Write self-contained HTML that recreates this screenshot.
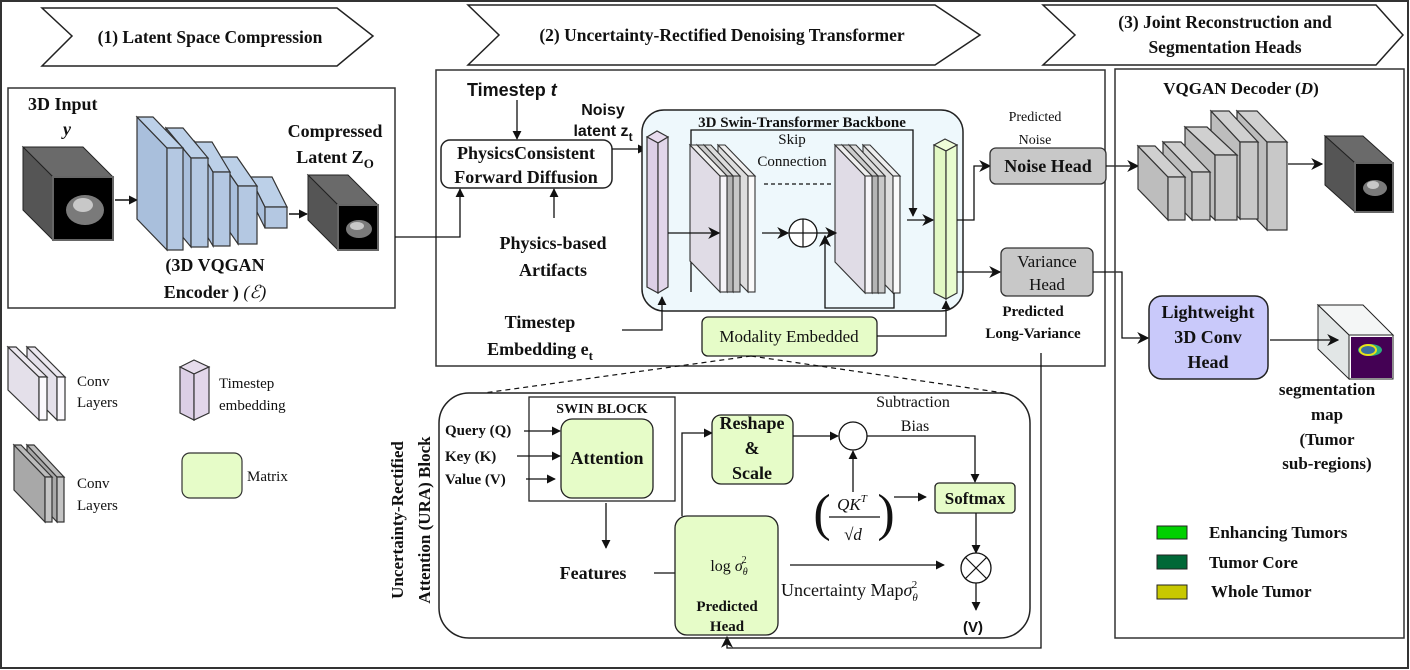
<!DOCTYPE html>
<html><head><meta charset="utf-8"><style>
html,body{margin:0;padding:0;background:#fff;width:1410px;height:670px;overflow:hidden}
svg{display:block}
text{font-family:"Liberation Serif",serif;fill:#111}
.b{font-weight:bold}
.s{font-family:"Liberation Sans",sans-serif}
</style></head><body>
<svg width="1410" height="670" viewBox="0 0 1410 670" xmlns="http://www.w3.org/2000/svg">
<defs>
<marker id="a" viewBox="0 0 10 10" refX="9" refY="5" markerWidth="9" markerHeight="9" markerUnits="userSpaceOnUse" orient="auto"><path d="M0,0 L10,5 L0,10 z" fill="#111"/></marker>
<marker id="a2" viewBox="0 0 10 10" refX="9" refY="5" markerWidth="12" markerHeight="12" markerUnits="userSpaceOnUse" orient="auto"><path d="M0,0 L10,5 L0,10 L3,5 z" fill="#111"/></marker>
</defs>
<rect x="1" y="1" width="1407" height="667" fill="none" stroke="#333" stroke-width="2"/>

<!-- header chevrons -->
<g stroke="#222" stroke-width="1.5" fill="#fff">
<polygon points="42,8 337,8 373,36 337,66 42,66 72,36"/>
<polygon points="468,5 935,5 980,35 935,65 468,65 499,35"/>
<polygon points="1043,5 1376,5 1403,35 1376,65 1043,65 1075,35"/>
</g>
<text x="210" y="43" class="b" font-size="17.5" text-anchor="middle">(1) Latent Space Compression</text>
<text x="722" y="41" class="b" font-size="17.5" text-anchor="middle">(2) Uncertainty-Rectified Denoising Transformer</text>
<text x="1225" y="28" class="b" font-size="17.5" text-anchor="middle">(3) Joint Reconstruction and</text>
<text x="1225" y="53" class="b" font-size="17.5" text-anchor="middle">Segmentation Heads</text>

<!-- Section 1 -->
<rect x="8" y="88" width="387" height="220" fill="none" stroke="#333" stroke-width="1.5"/>
<text x="28" y="110" class="b" font-size="18">3D Input</text>
<text x="63" y="135" class="b" font-size="18" font-style="italic">y</text>
<!-- cube1 -->
<polygon points="23,147 83,147 113,177 53,177" fill="#6a6a6a" stroke="#222"/>
<polygon points="23,147 53,177 53,240 23,210" fill="#555" stroke="#222"/>
<rect x="53" y="177" width="60" height="63" fill="#000" stroke="#666" stroke-width="2"/>
<ellipse cx="85" cy="210" rx="19" ry="15" fill="#7a7a7a"/><ellipse cx="83" cy="205" rx="10" ry="7" fill="#c8c8c8"/>
<line x1="115" y1="200" x2="137" y2="200" stroke="#111" stroke-width="1.5" marker-end="url(#a)"/>
<!-- encoder slabs -->
<g stroke="#333" stroke-width="1.2">
<polygon points="250,177 265,207 265,228 250,198" fill="#a9bfdc"/><polygon points="250,177 272,177 287,207 265,207" fill="#bcd0e8"/><rect x="265" y="207" width="22" height="21" fill="#b4c8e2"/>
<polygon points="218,157 238,186 238,244 218,215" fill="#a9bfdc"/><polygon points="218,157 237,157 257,186 238,186" fill="#bcd0e8"/><rect x="238" y="186" width="19" height="58" fill="#b4c8e2"/>
<polygon points="195,142 213,172 213,246 195,216" fill="#a9bfdc"/><polygon points="195,142 212,142 230,172 213,172" fill="#bcd0e8"/><rect x="213" y="172" width="17" height="74" fill="#b4c8e2"/>
<polygon points="166,128 191,158 191,247 166,217" fill="#a9bfdc"/><polygon points="166,128 183,128 208,158 191,158" fill="#bcd0e8"/><rect x="191" y="158" width="17" height="89" fill="#b4c8e2"/>
<polygon points="137,117 167,148 167,250 137,219" fill="#a9bfdc"/><polygon points="137,117 153,117 183,148 167,148" fill="#bcd0e8"/><rect x="167" y="148" width="16" height="102" fill="#b4c8e2"/>
</g>
<line x1="289" y1="214" x2="307" y2="214" stroke="#111" stroke-width="1.5" marker-end="url(#a)"/>
<!-- cube2 -->
<polygon points="308,175 348,175 378,205 338,205" fill="#6a6a6a" stroke="#222"/>
<polygon points="308,175 338,205 338,250 308,220" fill="#555" stroke="#222"/>
<rect x="338" y="205" width="40" height="45" fill="#000" stroke="#666" stroke-width="2"/>
<ellipse cx="359" cy="229" rx="13" ry="9" fill="#7a7a7a"/><ellipse cx="357" cy="226" rx="7" ry="4" fill="#c8c8c8"/>
<text x="335" y="137" class="b" font-size="18" text-anchor="middle">Compressed</text>
<text x="335" y="163" class="b" font-size="18" text-anchor="middle">Latent Z<tspan font-size="13" dy="5">O</tspan></text>
<text x="215" y="271" class="b" font-size="18" text-anchor="middle">(3D VQGAN</text>
<text x="215" y="298" class="b" font-size="18" text-anchor="middle">Encoder )  <tspan font-weight="normal" font-style="italic">(ℰ)</tspan></text>

<!-- Legend left -->
<g stroke="#333" stroke-width="1.2">
<polygon points="27,347 57,377 57,420 27,390" fill="#e4e0ea"/><polygon points="27,347 35,347 65,377 57,377" fill="#ece8f0"/><rect x="57" y="377" width="8" height="43" fill="#fbf9fd"/>
<polygon points="8,347 39,377 39,420 8,390" fill="#e4e0ea"/><polygon points="8,347 16,347 47,377 39,377" fill="#ece8f0"/><rect x="39" y="377" width="8" height="43" fill="#fbf9fd"/>
<polygon points="27,445 57,477 57,522 27,490" fill="#a8a8a8"/><polygon points="27,445 34,445 64,477 57,477" fill="#bbb"/><rect x="57" y="477" width="7" height="45" fill="#c4c4c4"/>
<polygon points="14,445 45,477 45,522 14,490" fill="#a8a8a8"/><polygon points="14,445 21,445 52,477 45,477" fill="#bbb"/><rect x="45" y="477" width="7" height="45" fill="#c4c4c4"/>
<polygon points="180,367 194,360 209,367 194,374" fill="#e6dcec"/><polygon points="180,367 194,374 194,420 180,413" fill="#dccfe6"/><polygon points="194,374 209,367 209,413 194,420" fill="#e2d6ea"/>
</g>
<text x="77" y="386" font-size="15">Conv</text><text x="77" y="407" font-size="15">Layers</text>
<text x="77" y="488" font-size="15">Conv</text><text x="77" y="510" font-size="15">Layers</text>
<text x="219" y="388" font-size="15">Timestep</text><text x="219" y="410" font-size="15">embedding</text>
<rect x="182" y="453" width="60" height="45" rx="8" fill="#e6fcc8" stroke="#333" stroke-width="1.2"/>
<text x="247" y="481" font-size="15">Matrix</text>

<!-- Section 2 -->
<rect x="436" y="70" width="669" height="296" fill="none" stroke="#333" stroke-width="1.5"/>
<text x="467" y="96" class="b s" font-size="18">Timestep <tspan font-style="italic">t</tspan></text>
<line x1="517" y1="100" x2="517" y2="139" stroke="#111" stroke-width="1.3" marker-end="url(#a)"/>
<rect x="441" y="140" width="171" height="48" rx="9" fill="#fff" stroke="#222" stroke-width="1.5"/>
<text x="526" y="159" class="b" font-size="18" text-anchor="middle">PhysicsConsistent</text>
<text x="526" y="183" class="b" font-size="18" text-anchor="middle">Forward Diffusion</text>
<text x="603" y="115" class="b s" font-size="16" text-anchor="middle">Noisy</text>
<text x="603" y="136" class="b s" font-size="16" text-anchor="middle">latent z<tspan font-size="12" dy="5">t</tspan></text>
<line x1="612" y1="149" x2="646" y2="149" stroke="#111" stroke-width="1.3" marker-end="url(#a)"/>
<polyline points="395,237 460,237 460,189" fill="none" stroke="#111" stroke-width="1.3" marker-end="url(#a)"/>
<line x1="554" y1="218" x2="554" y2="189" stroke="#111" stroke-width="1.3" marker-end="url(#a)"/>
<text x="553" y="249" class="b" font-size="18" text-anchor="middle">Physics-based</text>
<text x="553" y="276" class="b" font-size="18" text-anchor="middle">Artifacts</text>
<text x="540" y="328" class="b" font-size="18" text-anchor="middle">Timestep</text>
<text x="540" y="355" class="b" font-size="18" text-anchor="middle">Embedding e<tspan font-size="13" dy="5">t</tspan></text>

<rect x="642" y="110" width="321" height="201" rx="22" fill="#eef8fc" stroke="#222" stroke-width="1.5"/>
<text x="802" y="127" class="b" font-size="15" text-anchor="middle">3D Swin-Transformer Backbone</text>
<!-- purple bar -->
<g stroke="#333" stroke-width="1.2">
<polygon points="647,137 657,131 668,137 658,143" fill="#e8dcef"/><polygon points="647,137 658,143 658,293 647,287" fill="#dccfe6"/><polygon points="658,143 668,137 668,287 658,293" fill="#e2d6ea"/>
</g>
<polyline points="622,330 662,330 662,297" fill="none" stroke="#111" stroke-width="1.3" marker-end="url(#a)"/>
<!-- skip -->
<polyline points="691,292 691,130 913,130 913,216" fill="none" stroke="#111" stroke-width="1.3" marker-end="url(#a)"/>
<text x="792" y="144" font-size="15" text-anchor="middle">Skip</text>
<text x="792" y="166" font-size="15" text-anchor="middle">Connection</text>
<line x1="764" y1="184" x2="831" y2="184" stroke="#111" stroke-width="1.3" stroke-dasharray="4,3"/>
<!-- left layer group -->
<g stroke="#333" stroke-width="1.1">
<polygon points="718,145 748,176 748,292 718,261" fill="#ddd"/><polygon points="718,145 725,145 755,176 748,176" fill="#eee"/><rect x="748" y="176" width="7" height="116" fill="#fafafa"/>
<polygon points="704,145 733,176 733,292 704,261" fill="#ccc"/><polygon points="704,145 711,145 740,176 733,176" fill="#ddd"/><rect x="733" y="176" width="7" height="116" fill="#c8c8c8"/>
<polygon points="697,145 727,176 727,292 697,261" fill="#bbb"/><polygon points="697,145 704,145 733,176 727,176" fill="#ccc"/><rect x="727" y="176" width="6" height="116" fill="#b4b4b4"/>
<polygon points="690,145 720,176 720,292 690,261" fill="#e0dce6"/><polygon points="690,145 697,145 727,176 720,176" fill="#eee"/><rect x="720" y="176" width="7" height="116" fill="#f6f4f8"/>
</g>
<g stroke="#333" stroke-width="1.1">
<polygon points="863,145 893,176 893,293 863,262" fill="#ddd"/><polygon points="863,145 870,145 900,176 893,176" fill="#eee"/><rect x="893" y="176" width="7" height="117" fill="#fafafa"/>
<polygon points="849,145 878,176 878,293 849,262" fill="#ccc"/><polygon points="849,145 856,145 885,176 878,176" fill="#ddd"/><rect x="878" y="176" width="7" height="117" fill="#c8c8c8"/>
<polygon points="842,145 872,176 872,293 842,262" fill="#bbb"/><polygon points="842,145 849,145 878,176 872,176" fill="#ccc"/><rect x="872" y="176" width="6" height="117" fill="#b4b4b4"/>
<polygon points="835,145 865,176 865,293 835,262" fill="#e0dce6"/><polygon points="835,145 842,145 872,176 865,176" fill="#eee"/><rect x="865" y="176" width="7" height="117" fill="#f6f4f8"/>
</g>
<line x1="668" y1="233" x2="719" y2="233" stroke="#111" stroke-width="1.3" marker-end="url(#a2)"/>
<line x1="762" y1="233" x2="788" y2="233" stroke="#111" stroke-width="1.3" marker-end="url(#a2)"/>
<circle cx="803" cy="233" r="14" fill="#fff" stroke="#111" stroke-width="1.3"/>
<line x1="789" y1="233" x2="817" y2="233" stroke="#111" stroke-width="1.2"/><line x1="803" y1="219" x2="803" y2="247" stroke="#111" stroke-width="1.2"/>
<line x1="817" y1="233" x2="836" y2="233" stroke="#111" stroke-width="1.3" marker-end="url(#a2)"/>
<polyline points="894,293 894,308 825,308 825,236" fill="none" stroke="#111" stroke-width="1.3" marker-end="url(#a2)"/>
<line x1="907" y1="220" x2="933" y2="220" stroke="#111" stroke-width="1.3" marker-end="url(#a2)"/>
<!-- green bar -->
<g stroke="#333" stroke-width="1.2">
<polygon points="934,145 945,139 957,145 946,151" fill="#eefcd8"/><polygon points="934,145 946,151 946,299 934,293" fill="#e2f8c4"/><polygon points="946,151 957,145 957,293 946,299" fill="#e8fccf"/>
</g>
<rect x="702" y="317" width="175" height="39" rx="6" fill="#e6fcc8" stroke="#222" stroke-width="1.3"/>
<text x="789" y="342" font-size="17" text-anchor="middle">Modality Embedded</text>
<polyline points="877,336 946,336 946,301" fill="none" stroke="#111" stroke-width="1.3" marker-end="url(#a)"/>
<polyline points="957,220 974,220 974,166 990,166" fill="none" stroke="#111" stroke-width="1.3" marker-end="url(#a2)"/>
<line x1="957" y1="272" x2="1000" y2="272" stroke="#111" stroke-width="1.3" marker-end="url(#a2)"/>
<rect x="990" y="148" width="116" height="36" rx="6" fill="#c8c8c8" stroke="#333" stroke-width="1.3"/>
<text x="1048" y="172" class="b" font-size="18" text-anchor="middle">Noise Head</text>
<text x="1035" y="121" font-size="14" text-anchor="middle">Predicted</text>
<text x="1035" y="144" font-size="14" text-anchor="middle">Noise</text>
<rect x="1001" y="248" width="92" height="48" rx="6" fill="#c8c8c8" stroke="#333" stroke-width="1.3"/>
<text x="1047" y="267" font-size="17" text-anchor="middle">Variance</text>
<text x="1047" y="290" font-size="17" text-anchor="middle">Head</text>
<text x="1033" y="316" class="b" font-size="15" text-anchor="middle">Predicted</text>
<text x="1033" y="338" class="b" font-size="15" text-anchor="middle">Long-Variance</text>
<line x1="1106" y1="166" x2="1138" y2="166" stroke="#111" stroke-width="1.3" marker-end="url(#a2)"/>
<polyline points="1093,272 1122,272 1122,338 1148,338" fill="none" stroke="#111" stroke-width="1.3" marker-end="url(#a2)"/>
<polyline points="1041,353 1041,648 727,648 727,637" fill="none" stroke="#111" stroke-width="1.3" marker-end="url(#a2)"/>

<!-- dashed zoom lines -->
<line x1="751" y1="356" x2="484" y2="393" stroke="#111" stroke-width="1.2" stroke-dasharray="5,4"/>
<line x1="751" y1="356" x2="1004" y2="393" stroke="#111" stroke-width="1.2" stroke-dasharray="5,4"/>

<!-- URA block -->
<rect x="439" y="393" width="591" height="245" rx="30" fill="none" stroke="#222" stroke-width="1.5"/>
<text transform="translate(403,520) rotate(-90)" class="b" font-size="17" text-anchor="middle">Uncertainty-Rectified</text>
<text transform="translate(430,520) rotate(-90)" class="b" font-size="17" text-anchor="middle">Attention (URA) Block</text>
<rect x="529" y="397" width="146" height="104" fill="none" stroke="#222" stroke-width="1.3"/>
<text x="602" y="413" class="b" font-size="14" text-anchor="middle">SWIN BLOCK</text>
<rect x="561" y="419" width="92" height="79" rx="11" fill="#e6fcc8" stroke="#222" stroke-width="1.3"/>
<text x="607" y="464" class="b" font-size="18" text-anchor="middle">Attention</text>
<text x="445" y="435" class="b" font-size="15">Query (Q)</text>
<text x="445" y="461" class="b" font-size="15">Key (K)</text>
<text x="445" y="484" class="b" font-size="15">Value (V)</text>
<line x1="524" y1="431" x2="560" y2="431" stroke="#111" stroke-width="1.3" marker-end="url(#a)"/>
<line x1="517" y1="456" x2="560" y2="456" stroke="#111" stroke-width="1.3" marker-end="url(#a)"/>
<line x1="526" y1="479" x2="555" y2="479" stroke="#111" stroke-width="1.3" marker-end="url(#a)"/>
<line x1="606" y1="503" x2="606" y2="548" stroke="#111" stroke-width="1.3" marker-end="url(#a)"/>
<text x="593" y="579" class="b" font-size="18" text-anchor="middle">Features</text>
<line x1="654" y1="573" x2="675" y2="573" stroke="#111" stroke-width="1.3"/>
<rect x="675" y="516" width="103" height="119" rx="12" fill="#e6fcc8" stroke="#222" stroke-width="1.3"/>
<text x="729" y="571" font-size="16" text-anchor="middle">log <tspan font-style="italic">σ</tspan><tspan font-size="10" font-style="italic" dy="4">θ</tspan><tspan font-size="10" dx="-6" dy="-12">2</tspan></text>
<text x="727" y="611" class="b" font-size="15" text-anchor="middle">Predicted</text>
<text x="727" y="631" class="b" font-size="15" text-anchor="middle">Head</text>
<polyline points="682,516 682,433 712,433" fill="none" stroke="#111" stroke-width="1.3" marker-end="url(#a)"/>
<rect x="712" y="415" width="81" height="69" rx="9" fill="#e6fcc8" stroke="#222" stroke-width="1.3"/>
<text x="752" y="429" class="b" font-size="18" text-anchor="middle">Reshape</text>
<text x="752" y="454" class="b" font-size="18" text-anchor="middle">&amp;</text>
<text x="752" y="479" class="b" font-size="18" text-anchor="middle">Scale</text>
<line x1="793" y1="436" x2="838" y2="436" stroke="#111" stroke-width="1.3" marker-end="url(#a)"/>
<circle cx="853" cy="436" r="14" fill="#fff" stroke="#111" stroke-width="1.3"/>
<polyline points="867,436 975,436 975,482" fill="none" stroke="#111" stroke-width="1.3" marker-end="url(#a)"/>
<text x="913" y="407" font-size="16" text-anchor="middle">Subtraction</text>
<text x="915" y="431" font-size="16" text-anchor="middle">Bias</text>
<line x1="853" y1="492" x2="853" y2="451" stroke="#111" stroke-width="1.3" marker-end="url(#a)"/>
<text x="822" y="530" font-size="52" text-anchor="middle">(</text>
<text x="886" y="530" font-size="52" text-anchor="middle">)</text>
<text x="852" y="510" font-size="17" font-style="italic" text-anchor="middle">QK<tspan font-size="11" dy="-8">T</tspan></text>
<line x1="829" y1="517" x2="880" y2="517" stroke="#111" stroke-width="1.3"/>
<text x="853" y="540" font-size="17" text-anchor="middle">√<tspan font-style="italic">d</tspan></text>
<line x1="894" y1="497" x2="926" y2="497" stroke="#111" stroke-width="1.3" marker-end="url(#a)"/>
<rect x="935" y="483" width="80" height="30" rx="4" fill="#e6fcc8" stroke="#222" stroke-width="1.3"/>
<text x="975" y="504" class="b" font-size="17" text-anchor="middle">Softmax</text>
<line x1="976" y1="513" x2="976" y2="553" stroke="#111" stroke-width="1.3" marker-end="url(#a)"/>
<circle cx="976" cy="568" r="15" fill="#fff" stroke="#111" stroke-width="1.3"/>
<line x1="965" y1="557" x2="987" y2="579" stroke="#111" stroke-width="1.2"/><line x1="987" y1="557" x2="965" y2="579" stroke="#111" stroke-width="1.2"/>
<line x1="790" y1="565" x2="944" y2="565" stroke="#111" stroke-width="1.3" marker-end="url(#a)"/>
<text x="781" y="596" font-size="18">Uncertainty Map<tspan font-style="italic">σ</tspan><tspan font-size="11" font-style="italic" dy="5">θ</tspan><tspan font-size="11" dx="-6" dy="-13">2</tspan></text>
<line x1="976" y1="583" x2="976" y2="610" stroke="#111" stroke-width="1.3" marker-end="url(#a)"/>
<text x="973" y="632" class="b s" font-size="15" text-anchor="middle">(V)</text>

<!-- Section 3 -->
<rect x="1115" y="69" width="289" height="569" fill="none" stroke="#333" stroke-width="1.5"/>
<text x="1241" y="94" class="b" font-size="17" text-anchor="middle">VQGAN Decoder (<tspan font-style="italic">D</tspan>)</text>
<g stroke="#333" stroke-width="1.2">
<polygon points="1237,111 1267,142 1267,230 1237,199" fill="#bdbdbd"/><polygon points="1237,111 1257,111 1287,142 1267,142" fill="#d0d0d0"/><rect x="1267" y="142" width="20" height="88" fill="#c8c8c8"/>
<polygon points="1211,111 1240,142 1240,219 1211,188" fill="#bdbdbd"/><polygon points="1211,111 1229,111 1258,142 1240,142" fill="#d0d0d0"/><rect x="1240" y="142" width="18" height="77" fill="#c8c8c8"/>
<polygon points="1185,127 1215,155 1215,220 1185,192" fill="#bdbdbd"/><polygon points="1185,127 1207,127 1237,155 1215,155" fill="#d0d0d0"/><rect x="1215" y="155" width="22" height="65" fill="#c8c8c8"/>
<polygon points="1163,142 1192,172 1192,220 1163,190" fill="#bdbdbd"/><polygon points="1163,142 1181,142 1210,172 1192,172" fill="#d0d0d0"/><rect x="1192" y="172" width="18" height="48" fill="#c8c8c8"/>
<polygon points="1138,146 1168,177 1168,220 1138,189" fill="#bdbdbd"/><polygon points="1138,146 1155,146 1185,177 1168,177" fill="#d0d0d0"/><rect x="1168" y="177" width="17" height="43" fill="#c8c8c8"/>
</g>
<line x1="1288" y1="164" x2="1322" y2="164" stroke="#111" stroke-width="1.3" marker-end="url(#a2)"/>
<polygon points="1325,136 1363,136 1393,163 1355,163" fill="#6a6a6a" stroke="#222"/>
<polygon points="1325,136 1355,163 1355,212 1325,185" fill="#555" stroke="#222"/>
<rect x="1355" y="163" width="38" height="49" fill="#000" stroke="#666" stroke-width="2"/>
<ellipse cx="1375" cy="188" rx="12" ry="8" fill="#7a7a7a"/><ellipse cx="1373" cy="185" rx="6" ry="4" fill="#c8c8c8"/>
<rect x="1149" y="296" width="119" height="83" rx="13" fill="#c9c9fa" stroke="#222" stroke-width="1.5"/>
<text x="1208" y="318" class="b" font-size="18" text-anchor="middle">Lightweight</text>
<text x="1208" y="343" class="b" font-size="18" text-anchor="middle">3D Conv</text>
<text x="1208" y="368" class="b" font-size="18" text-anchor="middle">Head</text>
<polygon points="1318,305 1363,305 1393,335 1349,335" fill="#f4f6f6" stroke="#222"/>
<polygon points="1318,305 1349,335 1349,379 1318,349" fill="#e2e6e6" stroke="#222"/>
<rect x="1349" y="335" width="44" height="44" fill="#fff" stroke="#222"/>
<rect x="1351" y="337" width="41" height="41" fill="#440154"/>
<ellipse cx="1370" cy="350" rx="12" ry="6" fill="#2ab07f"/>
<ellipse cx="1368" cy="350" rx="8" ry="5" fill="#3a6fa0" stroke="#e6e21a" stroke-width="2"/>
<line x1="1270" y1="340" x2="1338" y2="340" stroke="#111" stroke-width="1.3" marker-end="url(#a2)"/>
<text x="1327" y="395" class="b" font-size="17" text-anchor="middle">segmentation</text>
<text x="1327" y="420" class="b" font-size="17" text-anchor="middle">map</text>
<text x="1327" y="445" class="b" font-size="17" text-anchor="middle">(Tumor</text>
<text x="1327" y="469" class="b" font-size="17" text-anchor="middle">sub-regions)</text>
<rect x="1157" y="526" width="30" height="13" fill="#00d000" stroke="#222"/>
<rect x="1157" y="555" width="30" height="14" fill="#006837" stroke="#222"/>
<rect x="1157" y="585" width="30" height="14" fill="#c8c800" stroke="#222"/>
<text x="1209" y="538" class="b" font-size="17">Enhancing Tumors</text>
<text x="1209" y="568" class="b" font-size="17">Tumor Core</text>
<text x="1211" y="597" class="b" font-size="17">Whole Tumor</text>
</svg>
</body></html>
